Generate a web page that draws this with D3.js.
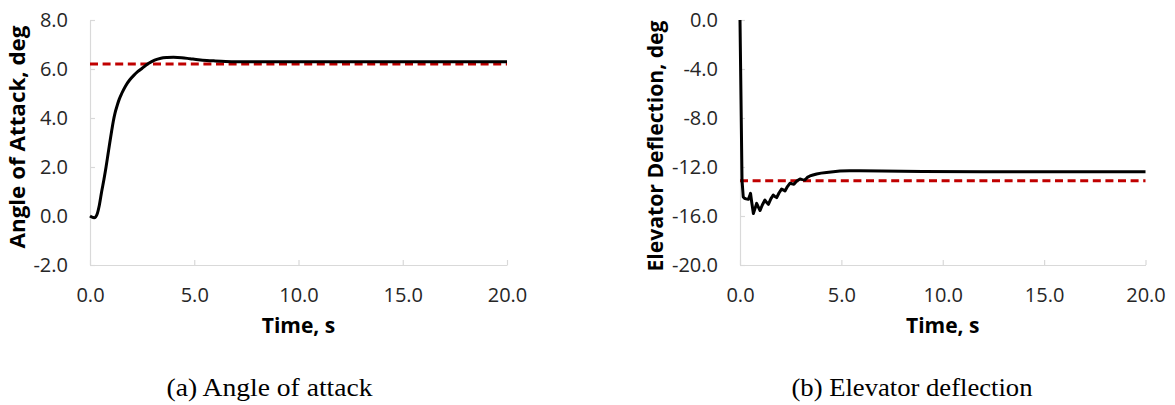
<!DOCTYPE html>
<html>
<head>
<meta charset="utf-8">
<script src="https://cdn.jsdelivr.net/npm/d3@7/dist/d3.min.js"></script>
<style>
  html, body { margin: 0; padding: 0; background: #fff; }
  svg { display: block; }
</style>
</head>
<body>
<svg id="chart" width="1175" height="405"></svg>
<script>
// ---------- Data ----------
const xTicks = [0, 5, 10, 15, 20];
const aoaTicks = [-2, 0, 2, 4, 6, 8];
const elevTicks = [-20, -16, -12, -8, -4, 0];

// (a) Angle of attack, deg
const aoaTime = [0, 0.1, 0.2, 0.27, 0.33, 0.45, 0.56, 0.67, 0.77, 0.86, 0.95, 1.04, 1.12, 1.2, 1.3, 1.4, 1.52, 1.7, 1.9, 2.1, 2.3, 2.5, 2.8, 3.1, 3.4, 3.7, 4.0, 4.4, 4.8, 5.2, 5.6, 6.0, 6.5, 7.0, 8.0, 10, 12, 14, 16, 18, 20];
const aoaValue = [0, -0.05, -0.07, -0.04, 0.05, 0.45, 1.0, 1.5, 2.0, 2.5, 3.0, 3.48, 3.88, 4.2, 4.5, 4.76, 5.0, 5.3, 5.55, 5.74, 5.9, 6.03, 6.22, 6.36, 6.44, 6.47, 6.48, 6.46, 6.42, 6.38, 6.35, 6.33, 6.31, 6.3, 6.3, 6.3, 6.3, 6.3, 6.3, 6.3, 6.3];
const aoaRef = 6.2;

// (b) Elevator deflection, deg
const elevTime = [0, 0.05, 0.1, 0.16, 0.22, 0.3, 0.41, 0.47, 0.52, 0.58, 0.66, 0.74, 0.82, 0.9, 0.99, 1.1, 1.23, 1.32, 1.4, 1.52, 1.64, 1.72, 1.81, 1.93, 2.05, 2.13, 2.22, 2.34, 2.46, 2.56, 2.66, 2.8, 2.96, 3.08, 3.2, 3.32, 3.45, 3.6, 3.78, 4.0, 4.27, 4.6, 4.93, 5.4, 5.9, 7, 9, 12, 15, 20];
const elevValue = [0, -6.5, -13.1, -14.45, -14.55, -14.6, -14.64, -14.4, -14.15, -14.9, -15.8, -15.4, -14.97, -15.25, -15.55, -15.1, -14.7, -14.9, -15.05, -14.6, -14.29, -14.4, -14.5, -14.1, -13.8, -13.87, -13.95, -13.6, -13.33, -13.37, -13.4, -13.15, -12.98, -13.03, -13.07, -12.85, -12.73, -12.65, -12.57, -12.5, -12.44, -12.38, -12.33, -12.31, -12.3, -12.33, -12.37, -12.38, -12.38, -12.38];
const elevRef = -13.12;

const xTitle = "Time, s";
const aoaTitle = "Angle of Attack, deg";
const elevTitle = "Elevator Deflection, deg";
const captionA = "(a) Angle of attack";
const captionB = "(b) Elevator deflection";

// ---------- Drawing ----------
const svg = d3.select("#chart");
svg.append("rect").attr("width", 1175).attr("height", 405).attr("fill", "#fff");

function panel(cfg) {
  const x = d3.scaleLinear().domain([0, 20]).range([cfg.x0, cfg.x1]);
  const y = d3.scaleLinear().domain(cfg.yDomain).range([265, 20]);
  const g = svg.append("g");

  // axes
  const xa = g.append("g").attr("transform", `translate(0,${y(cfg.yDomain[0])})`)
    .call(d3.axisBottom(x).tickValues(xTicks).tickSizeInner(-5).tickSizeOuter(0)
      .tickPadding(22.8).tickFormat(d3.format(".1f")));
  const ya = g.append("g").attr("transform", `translate(${x(0)},0)`)
    .call(d3.axisLeft(y).tickValues(cfg.yTicks).tickSizeInner(-5).tickSizeOuter(0)
      .tickPadding(22).tickFormat(d3.format(".1f")));
  [xa, ya].forEach(a => {
    a.select(".domain").attr("stroke", "#d9d9d9").attr("stroke-width", 1.2);
    a.selectAll(".tick line").attr("stroke", "#d9d9d9").attr("stroke-width", 1.2);
    a.selectAll(".tick text").attr("fill", "#262626").style("font-family", "'Open Sans', sans-serif").style("font-size", "20px");
  });
  ya.selectAll(".tick text").text(d => d3.format(".1f")(d).replace("−", "-"));

  // reference dashed line
  g.append("path")
    .datum([0, 20])
    .attr("d", d3.line().x(d => x(d)).y(() => y(cfg.ref)))
    .attr("fill", "none").attr("stroke", "#c00000").attr("stroke-width", 3)
    .attr("stroke-dasharray", "8,4.6");

  // response line
  const pts = cfg.t.map((t, i) => [t, cfg.v[i]]);
  g.append("path")
    .datum(pts)
    .attr("d", d3.line().x(d => x(d[0])).y(d => y(d[1])).curve(cfg.curve))
    .attr("fill", "none").attr("stroke", "#000").attr("stroke-width", 3)
    .attr("stroke-linejoin", "round");

  // titles
  g.append("text").attr("x", (cfg.x0 + cfg.x1) / 2).attr("y", 333.3)
    .attr("text-anchor", "middle")
    .style("font-family", "'Open Sans', sans-serif").style("font-size", "21px").style("font-weight", "bold")
    .attr("fill", "#000").text(xTitle);
  g.append("text")
    .attr("transform", `translate(${cfg.ytX},${cfg.ytY}) rotate(-90)`)
    .attr("text-anchor", "middle")
    .attr("textLength", cfg.ytLen).attr("lengthAdjust", "spacingAndGlyphs")
    .style("font-family", "'Open Sans', sans-serif").style("font-size", "22px").style("font-weight", "bold")
    .attr("fill", "#000").text(cfg.yTitle);

  // caption
  svg.append("text").attr("x", cfg.capX).attr("y", 396)
    .attr("textLength", cfg.capLen).attr("lengthAdjust", "spacingAndGlyphs")
    .style("font-family", "'Liberation Serif', 'Times New Roman', serif").style("font-size", "25px")
    .attr("fill", "#000").text(cfg.caption);
}

panel({
  x0: 90, x1: 507, yDomain: [-2, 8], yTicks: aoaTicks, t: aoaTime, v: aoaValue, ref: aoaRef,
  curve: d3.curveMonotoneX, yTitle: aoaTitle, ytX: 25, ytY: 137, ytLen: 223,
  caption: captionA, capX: 166.5, capLen: 206
});
panel({
  x0: 740, x1: 1145.5, yDomain: [-20, 0], yTicks: elevTicks, t: elevTime, v: elevValue, ref: elevRef,
  curve: d3.curveLinear, yTitle: elevTitle, ytX: 663.3, ytY: 146, ytLen: 251,
  caption: captionB, capX: 791.5, capLen: 241
});
</script>
</body>
</html>
